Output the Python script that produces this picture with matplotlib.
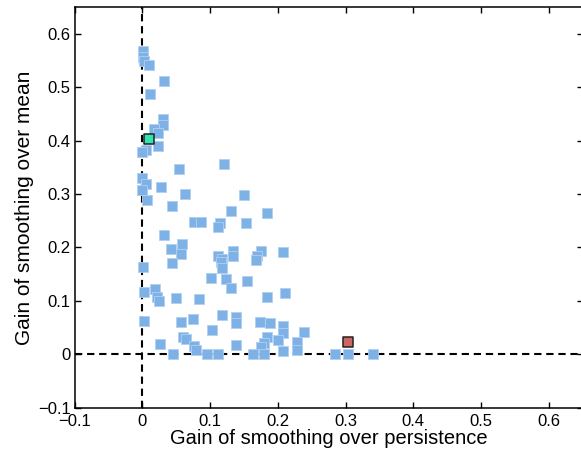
import numpy as np
import matplotlib
matplotlib.use('Agg')
import matplotlib.pyplot as plt

plt.rcParams['font.family'] = ['Liberation Sans', 'DejaVu Sans']

# gain of smoothing over persistence (x) and over mean (y), one pair per site
gain_persist = [0.0015, 0.0015, 0.003, 0.010, 0.032, 0.011, 0.031, 0.031, 0.017, 0.023,
                0.023, 0.006, 0.000, 0.120, 0.054, 0.000, 0.006, 0.028, 0.000, 0.063,
                0.007, 0.150, 0.043, 0.131, 0.184, 0.076, 0.086, 0.114, 0.112, 0.153,
                0.032, 0.058, 0.042, 0.057, 0.134, 0.134, 0.111, 0.117, 0.116, 0.117,
                0.175, 0.169, 0.168, 0.207, 0.001, 0.044, 0.101, 0.124, 0.154, 0.131,
                0.002, 0.019, 0.022, 0.025, 0.050, 0.084, 0.184, 0.210, 0.002, 0.057,
                0.075, 0.117, 0.138, 0.138, 0.103, 0.174, 0.188, 0.207, 0.208, 0.229,
                0.026, 0.060, 0.065, 0.076, 0.079, 0.045, 0.096, 0.111, 0.138, 0.184,
                0.179, 0.175, 0.200, 0.164, 0.179, 0.208, 0.228, 0.239, 0.284, 0.304,
                0.341]
gain_mean = [0.568, 0.556, 0.549, 0.541, 0.511, 0.487, 0.441, 0.430, 0.421, 0.414,
             0.391, 0.383, 0.378, 0.357, 0.347, 0.331, 0.318, 0.314, 0.307, 0.300,
             0.289, 0.299, 0.278, 0.269, 0.265, 0.248, 0.248, 0.246, 0.238, 0.246,
             0.224, 0.207, 0.197, 0.188, 0.194, 0.184, 0.184, 0.179, 0.173, 0.162,
             0.194, 0.183, 0.177, 0.191, 0.164, 0.170, 0.143, 0.141, 0.137, 0.124,
             0.117, 0.122, 0.107, 0.100, 0.105, 0.104, 0.107, 0.115, 0.062, 0.061,
             0.065, 0.074, 0.070, 0.059, 0.045, 0.061, 0.059, 0.053, 0.040, 0.023,
             0.019, 0.032, 0.028, 0.015, 0.008, 0.000, 0.000, 0.000, 0.018, 0.032,
             0.020, 0.013, 0.026, 0.000, 0.000, 0.006, 0.008, 0.042, 0.000, 0.000,
             0.000]

# highlighted sites
green_pt = (0.010, 0.404)
red_pt = (0.303, 0.022)

tick_vals = [-0.1, 0, 0.1, 0.2, 0.3, 0.4, 0.5, 0.6]
tick_labels = ['−0.1', '0', '0.1', '0.2', '0.3', '0.4', '0.5', '0.6']

fig = plt.figure(figsize=(5.81, 4.58), dpi=100)
ax = fig.add_axes([74.7 / 581, 50.5 / 458, 507.8 / 581, 400.2 / 458])

# reference lines at zero
ax.axhline(0, color='black', linestyle=(0, (3.5, 2.3)), linewidth=1.5, zorder=1)
ax.axvline(0, color='black', linestyle=(0, (3.5, 2.3)), linewidth=1.5, zorder=1)

ax.scatter(gain_persist, gain_mean, marker='s', s=44, color='#7eb2e6',
           edgecolors='#b0d0f0', linewidths=0.6, zorder=2)
ax.scatter([green_pt[0]], [green_pt[1]], marker='s', s=62, color='#33e6b0',
           edgecolors='#222222', linewidths=1.1, zorder=3)
ax.scatter([red_pt[0]], [red_pt[1]], marker='s', s=62, color='#cc6666',
           edgecolors='#222222', linewidths=1.1, zorder=3)

ax.set_xlim(-0.1, 0.65)
ax.set_ylim(-0.1, 0.65)
ax.set_xticks(tick_vals)
ax.set_yticks(tick_vals)
ax.set_xticklabels(tick_labels)
ax.set_yticklabels(tick_labels)
ax.tick_params(direction='in', top=True, right=True, length=4, width=1,
               labelsize=12)
ax.tick_params(axis='x', pad=5)
ax.tick_params(axis='y', pad=3)
for sp in ax.spines.values():
    sp.set_linewidth(1.1)

ax.set_xlabel('Gain of smoothing over persistence', fontsize=14.5, labelpad=0)
ax.set_ylabel('Gain of smoothing over mean', fontsize=15, labelpad=3)

fig.savefig('out.png', dpi=100)
